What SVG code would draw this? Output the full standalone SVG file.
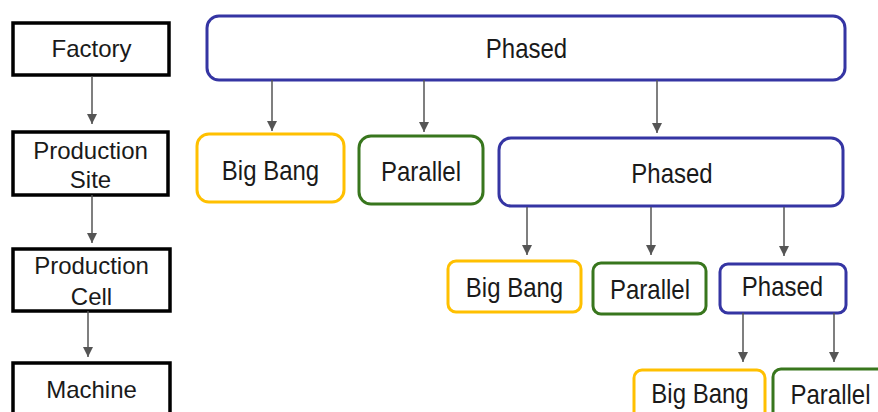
<svg xmlns="http://www.w3.org/2000/svg" width="878" height="412" viewBox="0 0 878 412">
  <style>
    .lvl { fill: #ffffff; stroke: #000000; stroke-width: 3.5; }
    .phased { fill: #ffffff; stroke: #3535a3; stroke-width: 3; }
    .bigbang { fill: #ffffff; stroke: #ffc000; stroke-width: 3; }
    .parallel { fill: #ffffff; stroke: #38761d; stroke-width: 3; }
    text { font-family: "Liberation Sans", Arial, sans-serif; font-size: 24px; fill: #1a1a1a; text-anchor: middle; }
    .conn { stroke: #555555; stroke-width: 1.5; fill: none; marker-end: url(#arrow); }
  </style>
  <defs>
    <marker id="arrow" markerUnits="userSpaceOnUse" markerWidth="10" markerHeight="10" refX="10" refY="5" orient="auto">
      <path d="M0,0 L10,5 L0,10 z" fill="#555555"/>
    </marker>
  </defs>

  <rect width="878" height="412" fill="#ffffff"/>

  <!-- hierarchy levels -->
  <g id="factory">
    <rect class="lvl" x="13" y="23" width="156" height="52"/>
    <text x="91.5" y="57">Factory</text>
  </g>
  <g id="production-site">
    <rect class="lvl" x="13" y="132" width="155" height="63"/>
    <text x="90.5" y="159">Production</text>
    <text x="90.5" y="188">Site</text>
  </g>
  <g id="production-cell">
    <rect class="lvl" x="13" y="249" width="157" height="62"/>
    <text x="91.5" y="274">Production</text>
    <text x="91.5" y="305">Cell</text>
  </g>
  <g id="machine">
    <rect class="lvl" x="13" y="363" width="157" height="60"/>
    <text x="91.5" y="398">Machine</text>
  </g>

  <!-- rollout strategies -->
  <g id="phased-1">
    <rect class="phased" x="207" y="16" width="638" height="64" rx="12"/>
    <text transform="translate(526.5,58.3) scale(1,1.15)">Phased</text>
  </g>
  <g id="bigbang-2">
    <rect class="bigbang" x="197" y="134" width="147" height="68" rx="12"/>
    <text transform="translate(270.5,180) scale(1,1.15)">Big Bang</text>
  </g>
  <g id="parallel-2">
    <rect class="parallel" x="359" y="136" width="124" height="68" rx="12"/>
    <text transform="translate(421,181) scale(1,1.15)">Parallel</text>
  </g>
  <g id="phased-2">
    <rect class="phased" x="499" y="138" width="344" height="68" rx="12"/>
    <text transform="translate(672,183) scale(1,1.15)">Phased</text>
  </g>
  <g id="bigbang-3">
    <rect class="bigbang" x="448" y="261" width="133" height="51" rx="8"/>
    <text transform="translate(514.5,296.7) scale(1,1.15)">Big Bang</text>
  </g>
  <g id="parallel-3">
    <rect class="parallel" x="593" y="263" width="113" height="51" rx="8"/>
    <text transform="translate(650,299.3) scale(1,1.15)">Parallel</text>
  </g>
  <g id="phased-3">
    <rect class="phased" x="720" y="264" width="126" height="49" rx="8"/>
    <text transform="translate(782.5,296) scale(1,1.15)">Phased</text>
  </g>
  <g id="bigbang-4">
    <rect class="bigbang" x="634" y="370" width="131" height="60" rx="8"/>
    <text transform="translate(700,403) scale(1,1.15)">Big Bang</text>
  </g>
  <g id="parallel-4">
    <rect class="parallel" x="773" y="369" width="120" height="60" rx="8"/>
    <text transform="translate(830.5,404) scale(1,1.15)">Parallel</text>
  </g>

  <!-- connectors -->
  <g id="connectors">
    <path class="conn" d="M92,76 V124"/>
    <path class="conn" d="M92,195 V243"/>
    <path class="conn" d="M88,311 V357"/>
    <path class="conn" d="M272,80 V131"/>
    <path class="conn" d="M424,80 V132"/>
    <path class="conn" d="M657,80 V133"/>
    <path class="conn" d="M527,207 V255"/>
    <path class="conn" d="M651,207 V255"/>
    <path class="conn" d="M784,207 V256"/>
    <path class="conn" d="M743,313 V362"/>
    <path class="conn" d="M834,313 V362"/>
  </g>
</svg>
